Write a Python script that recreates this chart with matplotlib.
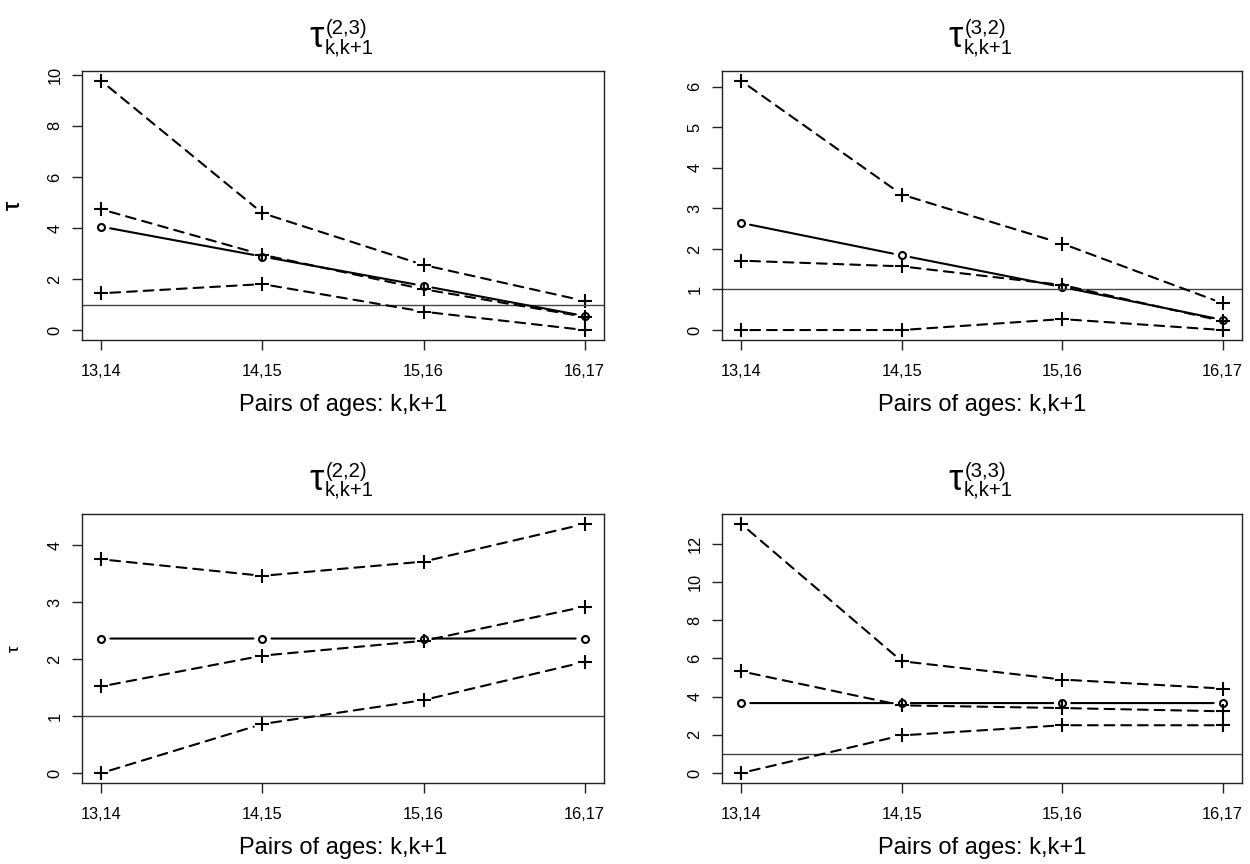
import matplotlib
matplotlib.use("Agg")
import matplotlib.pyplot as plt
from matplotlib.transforms import offset_copy

plt.rcParams['font.family'] = ['Liberation Sans', 'DejaVu Sans']

categories = ["13,14", "14,15", "15,16", "16,17"]
xpos = [1, 2, 3, 4]

title_sup = ["(2,3)", "(3,2)", "(2,2)", "(3,3)"]
title_sub = "k,k+1"

# tau(2,3)
est_23 = [4.05, 2.88, 1.73, 0.55]
upper_23 = [9.76, 4.58, 2.55, 1.14]
mid_23 = [4.73, 2.95, 1.60, 0.52]
lower_23 = [1.44, 1.80, 0.72, 0.00]
# tau(3,2)
est_32 = [2.64, 1.84, 1.06, 0.25]
upper_32 = [6.14, 3.34, 2.13, 0.66]
mid_32 = [1.71, 1.57, 1.11, 0.22]
lower_32 = [0.00, 0.00, 0.27, 0.00]
# tau(2,2)
est_22 = [2.36, 2.36, 2.36, 2.36]
upper_22 = [3.75, 3.46, 3.71, 4.37]
mid_22 = [1.52, 2.06, 2.32, 2.92]
lower_22 = [0.00, 0.86, 1.28, 1.95]
# tau(3,3)
est_33 = [3.66, 3.66, 3.66, 3.66]
upper_33 = [13.03, 5.85, 4.89, 4.42]
mid_33 = [5.32, 3.54, 3.40, 3.23]
lower_33 = [0.00, 1.97, 2.50, 2.50]

yticks = [[0, 2, 4, 6, 8, 10], [0, 1, 2, 3, 4, 5, 6],
          [0, 1, 2, 3, 4], [0, 2, 4, 6, 8, 10, 12]]

panels = [
    (est_23, [upper_23, mid_23, lower_23]),
    (est_32, [upper_32, mid_32, lower_32]),
    (est_22, [upper_22, mid_22, lower_22]),
    (est_33, [upper_33, mid_33, lower_33]),
]

W, H = 1250, 864
fig = plt.figure(figsize=(W / 100, H / 100), dpi=100)

# axes boxes in pixels: left, top, right, bottom
boxes = [(82, 71, 604, 340), (722, 71, 1242, 340),
         (82, 514, 604, 783), (722, 514, 1242, 783)]
ylab_sizes = [17, 17, 12, 12]

GAP = 6.5
DASH = (0, (4.7, 3.3))


def draw_b(ax, xs, ys, ls, marker, ms):
    ax.plot(xs, ys, linestyle='none', marker=marker, markersize=ms,
            markerfacecolor='none', markeredgecolor='black', markeredgewidth=1.5)
    for i in range(len(xs) - 1):
        ax.annotate('', xy=(xs[i + 1], ys[i + 1]), xytext=(xs[i], ys[i]),
                    xycoords='data', textcoords='data',
                    arrowprops=dict(arrowstyle='-', shrinkA=GAP, shrinkB=GAP,
                                    linestyle=ls, lw=1.5, color='black'))


for idx, ((est, bands), box) in enumerate(zip(panels, boxes)):
    l, t, r, b = box
    ax = fig.add_axes([l / W, 1 - b / H, (r - l) / W, (b - t) / H])
    for s in ax.spines.values():
        s.set_linewidth(1.0)
        s.set_color('#222222')
    for band in bands:
        draw_b(ax, xpos, band, DASH, '+', 9.5)
    draw_b(ax, xpos, est, '-', 'o', 5)
    ax.axhline(1, color='#444444', lw=1.0)
    ax.margins(x=0.04, y=0.04)
    ax.set_xticks(xpos)
    ax.set_xticklabels(categories)
    ax.set_yticks(yticks[idx])
    ax.set_yticklabels([str(v) for v in yticks[idx]], rotation=90, va='center')
    ax.tick_params(axis='both', direction='out', length=7, width=1.0,
                   labelsize=11.8, color='#222222')
    ax.tick_params(axis='x', pad=10)
    ax.tick_params(axis='y', pad=7)
    ax.set_xlabel("Pairs of ages: k,k+1", fontsize=17)
    ax.xaxis.set_label_coords(0.5, -65 / (b - t))
    ax.xaxis.label.set_va('center')
    ax.set_ylabel("τ", fontsize=ylab_sizes[idx])
    ax.yaxis.set_label_coords((14 - l) / (r - l), 0.5)
    ax.yaxis.label.set_va('center')

    # title: tau with stacked superscript / subscript
    base = ax.transAxes
    tr_tau = offset_copy(base, fig=fig, x=-19, y=24, units='dots')
    tr_sup = offset_copy(base, fig=fig, x=-17, y=37, units='dots')
    tr_sub = offset_copy(base, fig=fig, x=-18, y=18, units='dots')
    ax.text(0.5, 1.0, "τ", transform=tr_tau, ha='right', va='baseline',
            fontsize=26, clip_on=False)
    ax.text(0.5, 1.0, title_sup[idx], transform=tr_sup, ha='left',
            va='baseline', fontsize=14.6, clip_on=False)
    ax.text(0.5, 1.0, title_sub, transform=tr_sub, ha='left',
            va='baseline', fontsize=14.6, clip_on=False)

fig.savefig("out.png", dpi=100, facecolor='white')
